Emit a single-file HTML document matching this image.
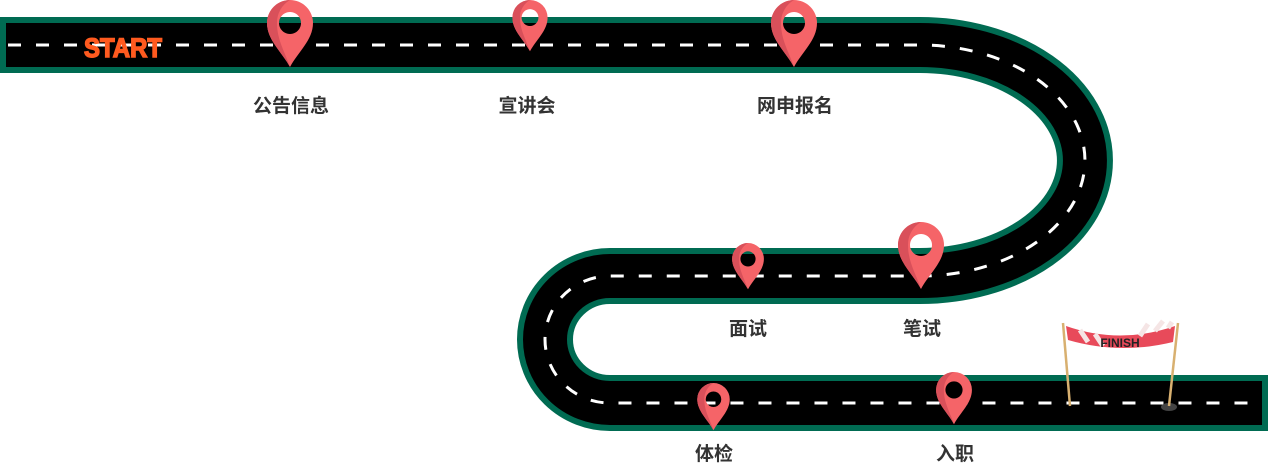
<!DOCTYPE html>
<html><head><meta charset="utf-8"><style>
html,body{margin:0;padding:0;background:#fff;width:1268px;height:460px;overflow:hidden}
.l{position:absolute;font:bold 19px "Liberation Sans","Noto Sans CJK SC",sans-serif;color:#333;transform:translateX(-50%);white-space:nowrap}
</style></head><body>
<svg width="1268" height="460" style="position:absolute;left:0;top:0">
<defs>
<symbol id="pin" viewBox="0 0 46 68">
<path fill-rule="evenodd" fill="#f56468" d="M23 67 C15 52 0 40 0 23 A23 23 0 0 1 46 23 C46 40 31 52 23 67 Z M23 12 A11 11 0 1 0 23.01 12 Z"/>
<path fill-rule="evenodd" fill="#d9505a" d="M23 67 C15 52 0 40 0 23 A23 23 0 0 1 23 0 A26 26 0 0 0 10 23 C10 40 18 52 23 67 Z"/>
</symbol>
</defs>
<g fill="none">
<path d="M28 45 H920 A165 115.5 0 0 1 920 276 H610 A65 63.5 0 0 0 610 403 H1240" stroke="#006b52" stroke-width="56" stroke-linecap="square"/>
<path d="M28 45 H920 A165 115.5 0 0 1 920 276 H610 A65 63.5 0 0 0 610 403 H1240" stroke="#000" stroke-width="44" stroke-linecap="square"/>
<path d="M8 45 H920 A165 115.5 0 0 1 920 276 H610 A65 63.5 0 0 0 610 403 H1260" stroke="#fff" stroke-width="3" stroke-dasharray="13 15"/>
</g>
<text x="84" y="57" font-family="Liberation Sans,sans-serif" font-weight="bold" font-size="27" fill="#ff5a1f" stroke="#ff5a1f" stroke-width="1.5" textLength="78" lengthAdjust="spacingAndGlyphs">START</text>
<use href="#pin" x="267" y="0" width="46" height="68"/>
<use href="#pin" x="512" y="0" width="36" height="52"/>
<use href="#pin" x="771" y="0" width="46" height="68"/>
<use href="#pin" x="732" y="243" width="32" height="47"/>
<use href="#pin" x="898" y="222" width="46" height="68"/>
<use href="#pin" x="697" y="383" width="33" height="48"/>
<use href="#pin" x="935" y="372" width="38" height="53"/>
<ellipse cx="1169" cy="407" rx="8" ry="4" fill="#444"/>
<line x1="1063" y1="323" x2="1070" y2="406" stroke="#d8b070" stroke-width="2.5"/>
<line x1="1178" y1="323" x2="1169" y2="406" stroke="#d8b070" stroke-width="2.5"/>
<path d="M1066 326 Q1120 345 1175 326 L1173 342 Q1120 355 1068 340 Z" fill="#e84a5a"/>
<path d="M1080 330 l8 12 M1095 334 l8 12 M1140 336 l8 -12 M1155 331 l8 -10 M1168 328 l4 -6" stroke="#f5e5e5" stroke-width="5"/>
<text x="1120" y="347" text-anchor="middle" font-family="Liberation Sans,sans-serif" font-weight="bold" font-size="12" fill="#222">FINISH</text>
</svg>
<div class="l" style="left:291px;top:91px">公告信息</div>
<div class="l" style="left:527px;top:91px">宣讲会</div>
<div class="l" style="left:795px;top:91px">网申报名</div>
<div class="l" style="left:748px;top:314px">面试</div>
<div class="l" style="left:922px;top:314px">笔试</div>
<div class="l" style="left:714px;top:439px">体检</div>
<div class="l" style="left:955px;top:439px">入职</div>
</body></html>
